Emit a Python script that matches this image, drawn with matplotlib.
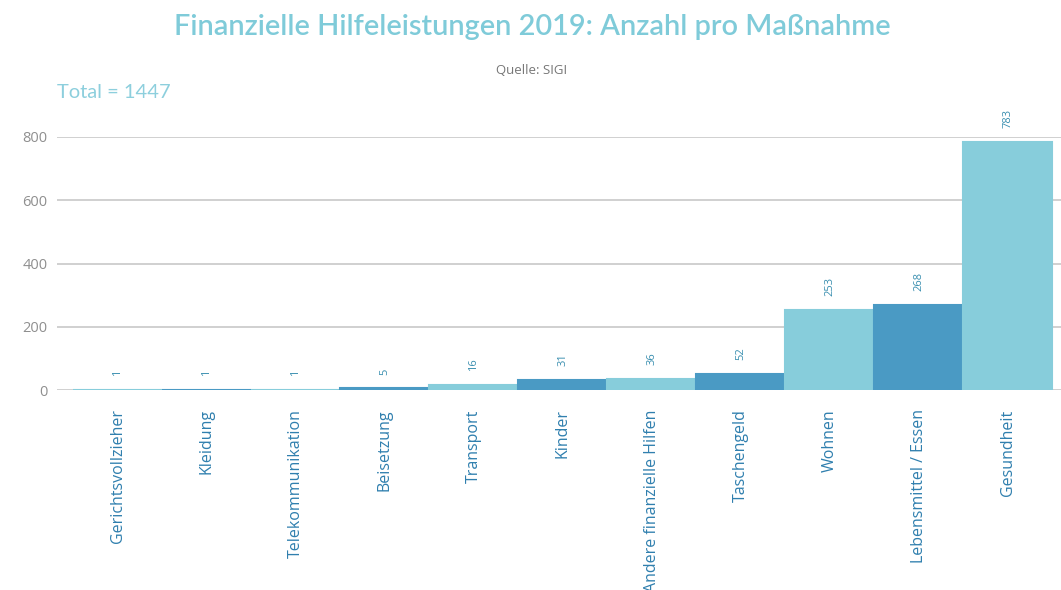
import numpy as np
import matplotlib.pyplot as plt

# Finanzielle Hilfeleistungen 2019, Anzahl pro Massnahme
kategorien = ['Gerichtsvollzieher', 'Kleidung', 'Telekommunikation', 'Beisetzung',
              'Transport', 'Kinder', 'Andere finanzielle Hilfen', 'Taschengeld',
              'Wohnen', 'Lebensmittel / Essen', 'Gesundheit']
anzahl = [1, 1, 1, 5, 16, 31, 36, 52, 253, 268, 783]
total = 1447

hell = '#87cddb'
dunkel = '#4a9ac4'
farben = [hell if i % 2 == 0 else dunkel for i in range(len(anzahl))]

plt.rcParams['font.family'] = ['Open Sans', 'DejaVu Sans']

fig = plt.figure(figsize=(10.61, 5.9), dpi=100)
# axes placed so 0 sits at y=390px and 800 at y=137px
ax = fig.add_axes([57/1061, 1 - 390/590, 1 - 57/1061, (390 - 137)/590])

x = np.arange(len(anzahl))
# thin edge in the bar colour keeps the value-1 bars visible
ax.bar(x, anzahl, width=1.0, color=farben, edgecolor=farben, linewidth=1.5, zorder=3)
ax.set_xlim(-0.68, len(anzahl) - 0.4)
ax.set_ylim(0, 800)
ax.set_yticks([0, 200, 400, 600, 800])
ax.yaxis.grid(True, color='#c8c8c8', linewidth=1.2, zorder=0)
ax.tick_params(axis='y', length=0, labelsize=10.5, labelcolor='#8f8f8f', pad=7)
ax.tick_params(axis='x', length=0, pad=14)
ax.set_xticks(x)
ax.set_xticklabels(kategorien, rotation=90, fontsize=11.5, color='#2f7fae', va='top')
for s in ax.spines.values():
    s.set_visible(False)

for xi, v in zip(x, anzahl):
    ax.annotate(str(v), (xi, v), xytext=(0, 10), textcoords='offset points',
                rotation=90, ha='center', va='bottom', fontsize=8, color='#3a8fb0')

fig.text(532/1061, 1 - 27/590, 'Finanzielle Hilfeleistungen 2019: Anzahl pro Maßnahme',
         ha='center', va='center', fontsize=20.8, color='#7fcbd9', fontweight='semibold',
         family='Lato')
fig.text(532/1061, 1 - 70/590, 'Quelle: SIGI', ha='center', va='center',
         fontsize=9.5, color='#777777')
fig.text(57/1061, 1 - 92/590, 'Total = %d' % total, ha='left', va='center',
         fontsize=14.5, color='#8dcfdd', family='Lato')

fig.savefig('out.png', dpi=100)
